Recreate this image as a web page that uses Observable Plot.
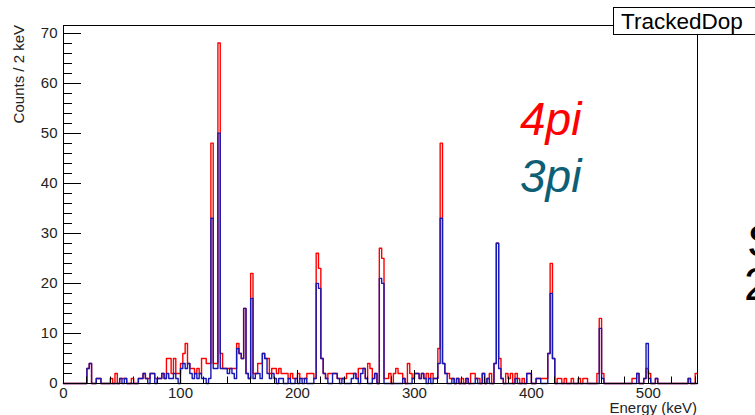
<!DOCTYPE html>
<html>
<head>
<meta charset="utf-8">
<script src="https://cdn.jsdelivr.net/npm/d3@7"></script>
<script src="https://cdn.jsdelivr.net/npm/@observablehq/plot@0.6"></script>
<style>
  html, body { margin: 0; padding: 0; background: #fff; }
  #chart { width: 755px; height: 415px; overflow: hidden; }
  #chart svg { display: block; }
</style>
</head>
<body>
<div id="chart"></div>
<script>
// Histogram binning (keV)
const binWidth = 2;
const energyMax = 542;

// Tracked Doppler-corrected spectra, counts per 2 keV bin starting at 0 keV
const counts4pi = [
  0,0,0,0,0,0,0,0,0,0,
  3,4,0,0,1,1,0,0,0,0,
  1,0,2,0,1,1,1,0,0,1,
  0,0,1,1,2,1,1,2,2,1,
  1,1,2,1,5,5,2,5,2,2,
  4,6,8,4,3,3,2,3,2,5,
  5,4,4,48,4,4,68,6,3,3,
  3,3,3,3,8,6,5,15,2,1,
  22,2,2,4,4,6,5,5,2,3,
  3,2,3,2,2,2,1,2,1,1,
  2,1,1,1,2,2,2,1,26,23,
  5,2,1,2,2,2,2,1,1,1,
  1,2,2,2,2,1,3,3,3,1,
  4,3,1,2,0,27,25,1,1,2,
  0,2,3,2,2,1,0,4,2,1,
  2,2,1,2,1,2,1,2,1,1,
  7,48,4,2,2,1,1,0,1,0,
  1,0,1,0,2,2,1,1,0,2,
  0,1,2,0,4,28,5,1,0,2,
  1,2,0,2,1,0,1,0,2,2,
  0,0,1,1,1,1,1,6,24,5,
  0,1,1,0,1,0,0,1,0,0,
  1,0,1,1,0,0,0,0,2,13,
  2,0,0,0,0,0,0,0,0,0,
  0,0,0,1,1,2,0,0,1,3,
  2,0,0,1,0,0,0,0,0,0,
  0,0,0,0,0,0,0,1,0,0,
  2
];

const counts3pi = [
  0,0,0,0,0,0,0,0,0,0,
  3,4,0,0,1,1,0,0,0,0,
  0,0,0,0,1,0,1,0,0,0,
  0,0,1,1,2,1,0,2,2,0,
  1,1,2,1,2,1,1,2,1,0,
  3,4,3,4,2,1,2,1,2,1,
  1,0,1,33,3,3,50,3,3,3,
  2,3,2,1,7,6,5,15,2,1,
  17,1,2,2,1,6,5,2,1,2,
  1,0,1,1,0,0,1,0,0,1,
  0,1,0,1,0,0,0,1,20,19,
  5,2,1,0,0,2,2,1,0,1,
  0,0,0,1,2,1,0,2,3,1,
  0,0,1,2,0,21,20,0,0,0,
  0,0,0,0,0,1,0,0,0,1,
  2,2,1,2,1,0,1,0,1,1,
  4,33,4,2,0,0,1,0,1,0,
  0,0,1,0,0,0,1,0,0,2,
  0,1,0,0,4,28,3,1,0,0,
  0,0,0,1,0,0,0,0,2,2,
  0,0,1,1,0,0,0,6,18,5,
  0,0,0,0,0,0,0,0,0,0,
  0,0,0,0,0,0,0,0,0,11,
  1,0,0,0,0,0,0,0,0,0,
  0,0,0,0,0,2,0,0,1,8,
  1,0,0,1,0,0,0,0,0,0,
  0,0,0,0,0,0,0,1,0,0,
  0
];

// Axis ticks
const yMajorTicks = [0, 10, 20, 30, 40, 50, 60, 70];
const yMinorTicks = d3.range(0, 72, 2).filter(v => v % 10 !== 0);
const xMajorTicks = [0, 100, 200, 300, 400, 500];
const xMinorTicks = d3.range(0, energyMax, 20).filter(v => v % 100 !== 0);

// Turn bin contents into step-line vertices (left edge of each bin + closing edge)
function steps(counts) {
  const pts = counts.map((c, i) => ({energy: i * binWidth, count: c}));
  pts.push({energy: counts.length * binWidth, count: counts[counts.length - 1]});
  return pts;
}

const font = "'Liberation Sans', Arial, Helvetica, sans-serif";
const W = 755, H = 415, mL = 63, mR = 58, mT = 25, mB = 32;

const plot = Plot.plot({
  width: W,
  height: H,
  marginLeft: mL,
  marginRight: mR,
  marginTop: mT,
  marginBottom: mB,
  style: {fontFamily: font, fontSize: "15px", color: "#222", background: "#fff", overflow: "visible"},
  x: {domain: [0, energyMax], ticks: xMajorTicks, tickSize: 0, tickPadding: 4, label: null},
  y: {domain: [0, 71.5], ticks: yMajorTicks, tickSize: 0, tickPadding: 6, label: null},
  marks: [
    Plot.line(steps(counts4pi), {x: "energy", y: "count", curve: "step-after", stroke: "#ff0000", strokeWidth: 1.4}),
    Plot.line(steps(counts3pi), {x: "energy", y: "count", curve: "step-after", stroke: "#1818b4", strokeWidth: 1.4}),
    Plot.frame({stroke: "#000", strokeWidth: 1})
  ]
});

const svg = d3.select(plot);
const xs = plot.scale("x"), ys = plot.scale("y");
const left = mL, bottom = H - mB;

// inward-pointing ticks on the left and bottom edges of the frame
const ticks = svg.append("g").attr("stroke", "#000").attr("stroke-width", 1);
for (const [vals, len] of [[yMinorTicks, 9], [yMajorTicks, 18]]) {
  for (const v of vals) {
    const y = Math.round(ys.apply(v)) + 0.5;
    ticks.append("line").attr("x1", left).attr("x2", left + len).attr("y1", y).attr("y2", y);
  }
}
for (const [vals, len] of [[xMinorTicks, 6.5], [xMajorTicks, 13]]) {
  for (const v of vals) {
    const x = Math.round(xs.apply(v)) + 0.5;
    ticks.append("line").attr("x1", x).attr("x2", x).attr("y1", bottom).attr("y2", bottom - len);
  }
}

// all free-standing labels are placed by their start point unless stated
const labels = svg.append("g").attr("text-anchor", "start").attr("font-family", font);

// series labels inside the frame
labels.append("text")
  .attr("x", 520).attr("y", 135)
  .attr("font-size", 46).attr("font-style", "italic").attr("fill", "#ff0000")
  .text("4pi");
labels.append("text")
  .attr("x", 520).attr("y", 191.5)
  .attr("font-size", 46).attr("font-style", "italic").attr("fill", "#0e5e76")
  .text("3pi");

// axis titles
labels.append("text")
  .attr("transform", "translate(24,25) rotate(-90)")
  .attr("text-anchor", "end")
  .attr("font-size", 15).attr("fill", "#222")
  .text("Counts / 2 keV");
labels.append("text")
  .attr("x", 697).attr("y", 413)
  .attr("text-anchor", "end")
  .attr("font-size", 15).attr("fill", "#222")
  .text("Energy (keV)");

// histogram title box
labels.append("rect")
  .attr("x", 613.5).attr("y", 7.5).attr("width", 170).attr("height", 27)
  .attr("fill", "#fff").attr("stroke", "#000");
labels.append("text")
  .attr("x", 621).attr("y", 29)
  .attr("font-size", 22.5).attr("fill", "#000")
  .text("TrackedDop");

// large labels at the right edge
labels.append("text")
  .attr("x", 747).attr("y", 257)
  .attr("font-size", 47).attr("fill", "#000")
  .text("S");
labels.append("text")
  .attr("x", 744).attr("y", 300)
  .attr("font-size", 47).attr("fill", "#000")
  .text("2");

document.getElementById("chart").appendChild(plot);
</script>
</body>
</html>
